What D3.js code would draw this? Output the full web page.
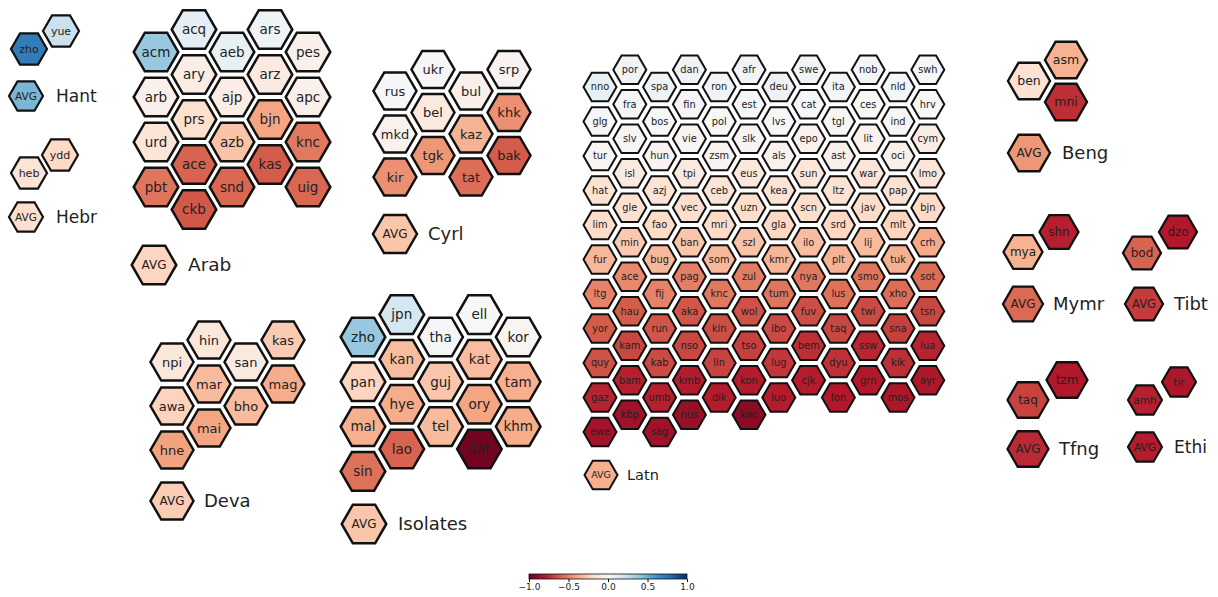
<!DOCTYPE html>
<html>
<head>
<meta charset="utf-8">
<script src="https://cdn.jsdelivr.net/npm/d3@7"></script>
<style>
  body { margin: 0; background: #fff; }
  text { font-family: "DejaVu Sans", sans-serif; fill: #222; }
</style>
</head>
<body>
<script>
// ---- data: languages per hex column, values per hex column, script average ----
const hantLangs = [["zho"], ["yue"]];
const hantVals = [[0.70], [0.22]];
const hantAvg = 0.46;

const hebrLangs = [["heb"], ["ydd"]];
const hebrVals = [[-0.14], [-0.20]];
const hebrAvg = -0.17;

const arabLangs = [
  ["acm", "arb", "urd", "pbt"],
  ["acq", "ary", "prs", "ace", "ckb"],
  ["aeb", "ajp", "azb", "snd"],
  ["ars", "arz", "bjn", "kas"],
  ["pes", "apc", "knc", "uig"]
];
const arabVals = [
  [0.38, -0.05, -0.13, -0.54],
  [0.10, -0.07, -0.16, -0.59, -0.62],
  [0.08, -0.07, -0.29, -0.58],
  [0.05, -0.09, -0.40, -0.61],
  [-0.05, -0.05, -0.53, -0.58]
];
const arabAvg = -0.22;

const cyrlLangs = [
  ["rus", "mkd", "kir"],
  ["ukr", "bel", "tgk"],
  ["bul", "kaz", "tat"],
  ["srp", "khk", "bak"]
];
const cyrlVals = [
  [0.01, -0.04, -0.46],
  [-0.01, -0.10, -0.44],
  [-0.05, -0.35, -0.56],
  [-0.03, -0.46, -0.61]
];
const cyrlAvg = -0.28;

const latnLangs = [
  ["nno", "glg", "tur", "hat", "lim", "fur", "ltg", "yor", "quy", "gaz", "ewe"],
  ["por", "fra", "slv", "isl", "gle", "min", "ace", "hau", "kam", "bam", "kbp"],
  ["spa", "bos", "hun", "azj", "fao", "bug", "fij", "run", "kab", "umb", "sag"],
  ["dan", "fin", "vie", "tpi", "vec", "ban", "pag", "aka", "nso", "kmb", "nus"],
  ["ron", "pol", "zsm", "ceb", "mri", "som", "knc", "kin", "lin", "dik"],
  ["afr", "est", "slk", "eus", "uzn", "szl", "zul", "wol", "tso", "kon", "kac"],
  ["deu", "lvs", "als", "kea", "gla", "kmr", "tum", "ibo", "lug", "luo"],
  ["swe", "cat", "epo", "sun", "scn", "ilo", "nya", "fuv", "bem", "cjk"],
  ["ita", "tgl", "ast", "ltz", "srd", "plt", "lus", "taq", "dyu", "fon"],
  ["nob", "ces", "lit", "war", "jav", "lij", "smo", "twi", "ssw", "grn"],
  ["nld", "ind", "oci", "pap", "mlt", "tuk", "xho", "sna", "kik", "mos"],
  ["swh", "hrv", "cym", "lmo", "bjn", "crh", "sot", "tsn", "lua", "ayr"]
];
const latnVals = [
  [0.08, 0.01, -0.02, -0.15, -0.19, -0.33, -0.50, -0.61, -0.64, -0.77, -0.84],
  [0.04, 0.02, -0.02, -0.10, -0.16, -0.27, -0.48, -0.61, -0.67, -0.78, -0.85],
  [0.05, 0.00, -0.03, -0.14, -0.19, -0.33, -0.50, -0.63, -0.66, -0.78, -0.85],
  [0.04, 0.02, -0.02, -0.10, -0.17, -0.28, -0.51, -0.63, -0.67, -0.79, -0.87],
  [0.03, 0.00, -0.03, -0.14, -0.20, -0.33, -0.53, -0.65, -0.68, -0.79],
  [0.03, 0.01, -0.03, -0.11, -0.18, -0.29, -0.52, -0.64, -0.69, -0.79, -0.91],
  [0.06, 0.00, -0.04, -0.14, -0.21, -0.34, -0.54, -0.66, -0.71, -0.79],
  [0.03, 0.01, -0.04, -0.12, -0.18, -0.31, -0.53, -0.65, -0.74, -0.79],
  [0.02, -0.01, -0.05, -0.15, -0.21, -0.35, -0.55, -0.67, -0.73, -0.80],
  [0.02, 0.00, -0.04, -0.13, -0.19, -0.32, -0.54, -0.66, -0.76, -0.80],
  [0.01, -0.01, -0.05, -0.15, -0.22, -0.36, -0.56, -0.69, -0.74, -0.81],
  [0.01, 0.00, -0.08, -0.13, -0.20, -0.38, -0.56, -0.67, -0.77, -0.81]
];
const latnAvg = -0.36;

const devaLangs = [["npi", "awa", "hne"], ["hin", "mar", "mai"], ["san", "bho"], ["kas", "mag"]];
const devaVals = [[-0.12, -0.23, -0.41], [-0.12, -0.32, -0.40], [-0.10, -0.32], [-0.26, -0.37]];
const devaAvg = -0.25;

const isoLangs = [
  ["zho", "pan", "mal", "sin"],
  ["jpn", "kan", "hye", "lao"],
  ["tha", "guj", "tel"],
  ["ell", "kat", "ory", "sat"],
  ["kor", "tam", "khm"]
];
const isoVals = [
  [0.38, -0.22, -0.36, -0.55],
  [0.18, -0.31, -0.37, -0.59],
  [0.02, -0.28, -0.32],
  [0.00, -0.31, -0.40, -0.97],
  [-0.02, -0.36, -0.37]
];
const isoAvg = -0.28;

const bengLangs = [["ben"], ["asm", "mni"]];
const bengVals = [[-0.15], [-0.35, -0.74]];
const bengAvg = -0.44;

const mymrLangs = [["mya"], ["shn"]];
const mymrVals = [[-0.35], [-0.78]];
const mymrAvg = -0.57;

const tibtLangs = [["bod"], ["dzo"]];
const tibtVals = [[-0.59], [-0.80]];
const tibtAvg = -0.70;

const tfngLangs = [["taq"], ["tzm"]];
const tfngVals = [[-0.68], [-0.80]];
const tfngAvg = -0.75;

const ethiLangs = [["amh"], ["tir"]];
const ethiVals = [[-0.78], [-0.81]];
const ethiAvg = -0.79;

const cbTicks = [-1, -0.5, 0, 0.5, 1];

// matplotlib RdBu anchor colours, red (-1) to blue (+1)
const rdbu = ["#67001f", "#b2182b", "#d6604d", "#f4a582", "#fddbc7", "#f7f7f7",
  "#d1e5f0", "#92c5de", "#4393c3", "#2166ac", "#053061"];

const groups = [
  { name: "Hant", langs: hantLangs, vals: hantVals, avg: hantAvg },
  { name: "Hebr", langs: hebrLangs, vals: hebrVals, avg: hebrAvg },
  { name: "Arab", langs: arabLangs, vals: arabVals, avg: arabAvg },
  { name: "Cyrl", langs: cyrlLangs, vals: cyrlVals, avg: cyrlAvg },
  { name: "Latn", langs: latnLangs, vals: latnVals, avg: latnAvg },
  { name: "Deva", langs: devaLangs, vals: devaVals, avg: devaAvg },
  { name: "Isolates", langs: isoLangs, vals: isoVals, avg: isoAvg },
  { name: "Beng", langs: bengLangs, vals: bengVals, avg: bengAvg },
  { name: "Mymr", langs: mymrLangs, vals: mymrVals, avg: mymrAvg },
  { name: "Tibt", langs: tibtLangs, vals: tibtVals, avg: tibtAvg },
  { name: "Tfng", langs: tfngLangs, vals: tfngVals, avg: tfngAvg },
  { name: "Ethi", langs: ethiLangs, vals: ethiVals, avg: ethiAvg }
];

// ---- layout of each panel (hex grid origin, spacing, sizes) ----
const layout = {
  Hant:     { x0: 29,   y0: 49,  dx: 32,   dy: 36,   r: 18,   fs: 11,   avgX: 26,   avgY: 96,  avgR: 17,   avgFs: 10.5, nameDx: 30, nameFs: 17,   sw: 2.2 },
  Hebr:     { x0: 29,   y0: 173, dx: 31,   dy: 36,   r: 18,   fs: 11,   avgX: 26,   avgY: 217, avgR: 17,   avgFs: 10.5, nameDx: 30, nameFs: 17,   sw: 2.2 },
  Arab:     { x0: 156,  y0: 52,  dx: 38,   dy: 45,   r: 22.3, fs: 13.5, avgX: 154,  avgY: 265, avgR: 22.3, avgFs: 12,   nameDx: 34, nameFs: 18.5, sw: 2.5 },
  Cyrl:     { x0: 395,  y0: 91,  dx: 38,   dy: 43,   r: 21.5, fs: 13,   avgX: 395,  avgY: 234, avgR: 22,   avgFs: 12,   nameDx: 33, nameFs: 18,   sw: 2.5 },
  Latn:     { x0: 600,  y0: 87,  dx: 29.8, dy: 34.5, r: 16.5, fs: 9.8,  avgX: 601,  avgY: 475, avgR: 16.5, avgFs: 9.5,  nameDx: 26, nameFs: 14.5, sw: 2 },
  Deva:     { x0: 172,  y0: 362, dx: 37,   dy: 44,   r: 21.5, fs: 13,   avgX: 172,  avgY: 501, avgR: 21.5, avgFs: 12,   nameDx: 32, nameFs: 18,   sw: 2.5 },
  Isolates: { x0: 363,  y0: 337, dx: 38.8, dy: 44.8, r: 22.3, fs: 13.5, avgX: 364,  avgY: 524, avgR: 22.3, avgFs: 12,   nameDx: 34, nameFs: 18,   sw: 2.5 },
  Beng:     { x0: 1029, y0: 81,  dx: 37,   dy: 42,   r: 21,   fs: 12.5, avgX: 1029, avgY: 153, avgR: 21,   avgFs: 12,   nameDx: 33, nameFs: 18,   sw: 2.4 },
  Mymr:     { x0: 1023, y0: 252, dx: 36,   dy: 40,   r: 19.5, fs: 12,   avgX: 1023, avgY: 304, avgR: 20,   avgFs: 12,   nameDx: 30, nameFs: 18,   sw: 2.3 },
  Tibt:     { x0: 1142, y0: 253, dx: 36,   dy: 42,   r: 19,   fs: 12,   avgX: 1144, avgY: 304, avgR: 19,   avgFs: 11.5, nameDx: 30, nameFs: 18,   sw: 2.3 },
  Tfng:     { x0: 1028, y0: 400, dx: 39,   dy: 40,   r: 20.5, fs: 12,   avgX: 1028, avgY: 449, avgR: 20.5, avgFs: 12,   nameDx: 31, nameFs: 18,   sw: 2.3 },
  Ethi:     { x0: 1145, y0: 400, dx: 34,   dy: 36,   r: 17,   fs: 10.5, avgX: 1145, avgY: 447, avgR: 17,   avgFs: 10.5, nameDx: 29, nameFs: 17,   sw: 2.2 }
};

const width = 1218, height = 597;

const color = d3.scaleLinear()
  .domain(d3.range(11).map(function (i) { return -1 + i * 0.2; }))
  .range(rdbu)
  .interpolate(d3.interpolateRgb)
  .clamp(true);

const svg = d3.select("body").append("svg")
  .attr("width", width)
  .attr("height", height);

const hexLine = d3.line().curve(d3.curveLinearClosed);
function hexPath(r) {
  return hexLine(d3.range(6).map(function (i) {
    const a = Math.PI / 3 * i;
    return [r * Math.cos(a), r * Math.sin(a)];
  }));
}

groups.forEach(function (g) {
  const L = layout[g.name];
  const x = d3.scaleLinear().domain([0, 1]).range([L.x0, L.x0 + L.dx]);
  const y = d3.scaleLinear().domain([0, 1]).range([L.y0, L.y0 + L.dy]);

  const cells = [];
  g.langs.forEach(function (col, c) {
    col.forEach(function (lang, r) {
      cells.push({ lang: lang, v: g.vals[c][r], col: c, row: r - (c % 2 ? 0.5 : 0) });
    });
  });

  const panel = svg.append("g").attr("class", "panel");

  const cell = panel.selectAll(".cell")
    .data(cells)
    .enter().append("g")
    .attr("class", "cell")
    .attr("transform", function (d) { return "translate(" + x(d.col) + "," + y(d.row) + ")"; });

  cell.append("path")
    .attr("d", hexPath(L.r))
    .style("fill", function (d) { return color(d.v); })
    .style("stroke", "#111")
    .style("stroke-width", L.sw)
    .style("stroke-linejoin", "miter");

  cell.append("text")
    .attr("text-anchor", "middle")
    .attr("dy", "0.35em")
    .style("font-size", L.fs + "px")
    .text(function (d) { return d.lang; });

  // average hex + script name
  const avg = panel.append("g")
    .attr("transform", "translate(" + L.avgX + "," + L.avgY + ")");

  avg.append("path")
    .attr("d", hexPath(L.avgR))
    .style("fill", color(g.avg))
    .style("stroke", "#111")
    .style("stroke-width", L.sw);

  avg.append("text")
    .attr("text-anchor", "middle")
    .attr("dy", "0.35em")
    .style("font-size", L.avgFs + "px")
    .text("AVG");

  avg.append("text")
    .attr("x", L.nameDx)
    .attr("dy", "0.35em")
    .style("font-size", L.nameFs + "px")
    .text(g.name);
});

// ---- colorbar ----
const cb = { x: 529, y: 574, w: 158, h: 5 };
const defs = svg.append("defs");
const grad = defs.append("linearGradient")
  .attr("id", "cbgrad")
  .attr("x1", "0%").attr("x2", "100%")
  .attr("y1", "0%").attr("y2", "0%");
d3.range(0, 1.0001, 0.05).forEach(function (t) {
  grad.append("stop")
    .attr("offset", (t * 100) + "%")
    .attr("stop-color", color(-1 + 2 * t));
});

const cbScale = d3.scaleLinear().domain([-1, 1]).range([cb.x, cb.x + cb.w]);

svg.append("rect")
  .attr("x", cb.x).attr("y", cb.y)
  .attr("width", cb.w).attr("height", cb.h)
  .style("fill", "url(#cbgrad)")
  .style("stroke", "#111")
  .style("stroke-width", 0.8);

const cbAxis = svg.append("g")
  .attr("transform", "translate(0," + (cb.y + cb.h) + ")")
  .call(d3.axisBottom(cbScale).tickValues(cbTicks).tickSize(3).tickFormat(d3.format(".1f")));
cbAxis.select(".domain").remove();
cbAxis.selectAll("text")
  .style("font-size", "9px")
  .style("font-family", "DejaVu Sans, sans-serif")
  .attr("y", 5);
</script>
</body>
</html>
